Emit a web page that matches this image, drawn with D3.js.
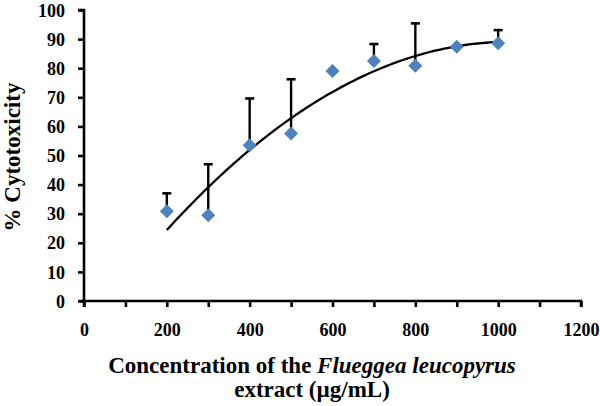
<!DOCTYPE html>
<html>
<head>
<meta charset="utf-8">
<script src="https://cdn.jsdelivr.net/npm/d3@7"></script>
<style>
  html, body { margin: 0; padding: 0; background: #fff; }
  svg { display: block; }
  text { font-family: "Liberation Serif", "Times New Roman", serif; font-weight: bold; fill: #000; }
</style>
</head>
<body>
<svg id="chart" width="600" height="406"></svg>
<script>
// ---- data ----
const concentrations = [200, 300, 400, 500, 600, 700, 800, 900, 1000];
const cytotoxicity   = [30.8, 29.5, 53.5, 57.6, 79.0, 82.5, 80.8, 87.4, 88.6];
const errorPlus      = [6.2, 17.5, 16.1, 18.6, 0, 5.8, 14.6, 0, 4.5];
const xTicks = [0, 200, 400, 600, 800, 1000, 1200];
const xMinorTicks = [0, 100, 200, 300, 400, 500, 600, 700, 800, 900, 1000, 1100, 1200];
const yTicks = [0, 10, 20, 30, 40, 50, 60, 70, 80, 90, 100];
const xTitle = ["Concentration of the ", "Flueggea leucopyrus"];
const xTitle2 = "extract (µg/mL)";
const yTitle = "% Cytotoxicity";

// ---- quadratic least-squares trendline (Excel polynomial, order 2) ----
function quadFit(xs, ys) {
  const mx = d3.mean(xs), sx = 100;
  const u = xs.map(x => (x - mx) / sx);
  let S = [0,0,0,0,0], T = [0,0,0];
  u.forEach((v, i) => {
    for (let k = 0; k < 5; k++) S[k] += Math.pow(v, k);
    for (let k = 0; k < 3; k++) T[k] += Math.pow(v, k) * ys[i];
  });
  const A = [[S[0],S[1],S[2]],[S[1],S[2],S[3]],[S[2],S[3],S[4]]];
  const b = T.slice();
  for (let i = 0; i < 3; i++) {
    for (let j = i + 1; j < 3; j++) {
      const f = A[j][i] / A[i][i];
      for (let k = i; k < 3; k++) A[j][k] -= f * A[i][k];
      b[j] -= f * b[i];
    }
  }
  const c = [0,0,0];
  for (let i = 2; i >= 0; i--) {
    let s = b[i];
    for (let k = i + 1; k < 3; k++) s -= A[i][k] * c[k];
    c[i] = s / A[i][i];
  }
  return x => { const v = (x - mx) / sx; return c[0] + c[1]*v + c[2]*v*v; };
}
const fit = quadFit(concentrations, cytotoxicity);

// ---- layout ----
const FONT = '"Liberation Serif", "Times New Roman", serif';
const svg = d3.select("#chart");
const x = d3.scaleLinear().domain([0, 1200]).range([84, 581]);
const y = d3.scaleLinear().domain([0, 100]).range([301, 10]);

// axes
const xAxis = d3.axisBottom(x).tickValues(xMinorTicks).tickSize(6).tickFormat(d => xTicks.includes(d) ? d : "");
const yAxis = d3.axisLeft(y).tickValues(yTicks).tickSize(6).tickFormat(d3.format("d"));

const gx = svg.append("g").attr("transform", `translate(0,${y(0)})`).call(xAxis);
const gy = svg.append("g").attr("transform", `translate(${x(0)},0)`).call(yAxis);

[gx, gy].forEach(g => {
  g.attr("font-family", null).attr("font-size", null);
  g.select(".domain").attr("stroke", "#000").attr("stroke-width", 2.6);
  g.selectAll(".tick line").attr("stroke", "#000").attr("stroke-width", 2.6);
  g.selectAll("text").style("font-family", FONT)
    .style("font-weight", "bold").style("font-size", "18px").attr("fill", "#000");
});
gx.select(".domain").attr("d", `M${x(0)},6V0H${x(1200)}V6`);
gy.select(".domain").attr("d", `M-6,${y(100)}H0V${y(0)}H-6`);
gx.selectAll("text").attr("dy", "0").attr("y", 35);
gy.selectAll("text").attr("x", -19).attr("dy", "0.34em");

// trendline
const trendX = d3.range(200, 1000.01, 10);
const line = d3.line().x(d => x(d)).y(d => y(fit(d)));
svg.append("path").datum(trendX).attr("d", line)
  .attr("fill", "none").attr("stroke", "#000").attr("stroke-width", 2.3);

// error bars (plus only)
const pts = concentrations.map((c, i) => ({c, v: cytotoxicity[i], e: errorPlus[i]}));
const eb = svg.append("g").selectAll("g").data(pts.filter(d => d.e > 0)).join("g");
eb.append("line").attr("x1", d => x(d.c)).attr("x2", d => x(d.c))
  .attr("y1", d => y(d.v)).attr("y2", d => y(d.v + d.e))
  .attr("stroke", "#000").attr("stroke-width", 2.4);
eb.append("line").attr("x1", d => x(d.c) - 4.5).attr("x2", d => x(d.c) + 4.5)
  .attr("y1", d => y(d.v + d.e)).attr("y2", d => y(d.v + d.e))
  .attr("stroke", "#000").attr("stroke-width", 2.6);

// markers (diamonds)
const r = 7;
svg.append("g").selectAll("path").data(pts).join("path")
  .attr("d", d => `M${x(d.c)},${y(d.v) - r}L${x(d.c) + r},${y(d.v)}L${x(d.c)},${y(d.v) + r}L${x(d.c) - r},${y(d.v)}Z`)
  .attr("fill", "#4F81BD");

// axis titles
const t1 = svg.append("text").attr("x", 312).attr("y", 373).attr("text-anchor", "middle")
  .style("font-size", "23px");
t1.append("tspan").text(xTitle[0]);
t1.append("tspan").style("font-style", "italic").text(xTitle[1]);
svg.append("text").attr("x", 312).attr("y", 397).attr("text-anchor", "middle")
  .style("font-size", "23px").text(xTitle2);

svg.append("text").attr("transform", `translate(20,157) rotate(-90)`)
  .attr("text-anchor", "middle").style("font-size", "23px").text(yTitle);
</script>
</body>
</html>
